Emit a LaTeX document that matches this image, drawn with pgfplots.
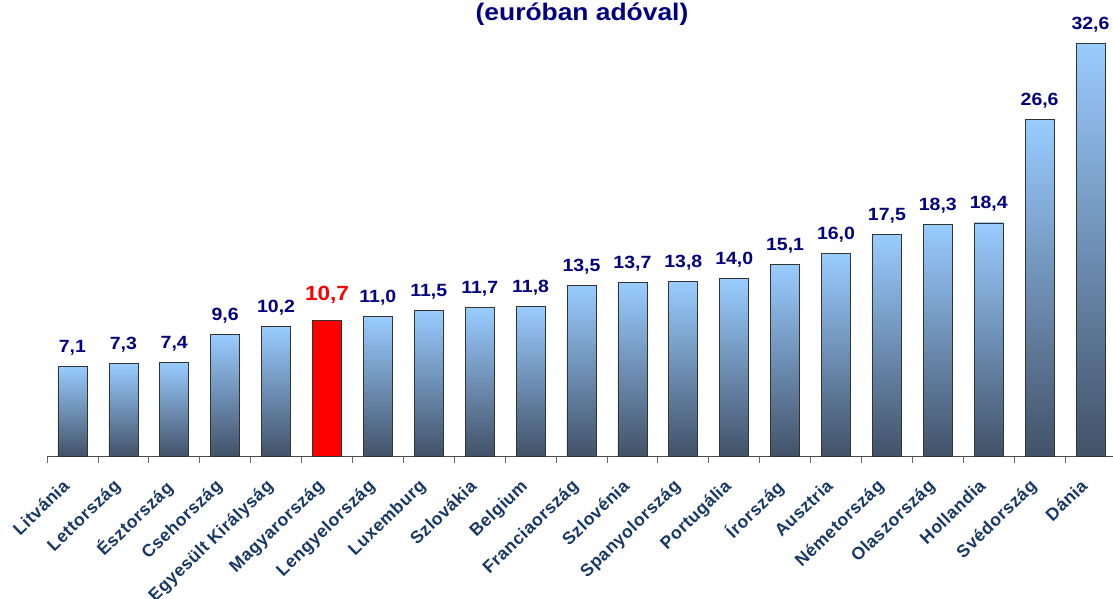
\documentclass[border=0pt]{standalone}
\usepackage{fontspec}
\setmainfont{Liberation Sans}[FakeStretch=1.1]
\newfontfamily\lab{Liberation Sans}[LetterSpace=3]
\usepackage{pgfplots}
\pgfplotsset{compat=1.18}
\definecolor{barlabel}{RGB}{0,0,128}
\definecolor{ticklab}{RGB}{23,55,100}
\definecolor{bartop}{RGB}{153,204,255}
\definecolor{barbot}{RGB}{66,82,104}
\begin{document}
\begin{tikzpicture}
\begin{axis}[
  at={(0pt,0pt)}, anchor=south west,
  scale only axis, width=1069pt, height=456pt,
  xmin=-0.5, xmax=20.5, ymin=0, ymax=36,
  axis x line*=bottom, axis y line=none,
  x axis line style={draw=black!70, line width=0.8pt},
  ybar, bar width=29pt, bar shift=0pt,
  xtick={0,...,20},
  xticklabels={Litvánia,Lettország,Észtország,Csehország,Egyesült Királyság,Magyarország,Lengyelország,Luxemburg,Szlovákia,Belgium,Franciaország,Szlovénia,Spanyolország,Portugália,Írország,Ausztria,Németország,Olaszország,Hollandia,Svédország,Dánia},
  minor xtick={-0.5,0.5,...,20.5},
  major tick length=0pt, minor tick length=7pt, tick align=outside,
  minor tick style={draw=black!60, line width=0.8pt},
  x tick label style={font=\lab\fontsize{17.5}{19}\selectfont\bfseries, text=ticklab, inner sep=0pt, xshift=-11pt, yshift=-22pt, rotate=44, anchor=north east},
  title={(euróban adóval)},
  title style={at={(axis description cs:0.5005,0.941)}, anchor=base, font=\fontsize{24}{28}\selectfont\bfseries, text=barlabel},
  /pgf/number format/.cd, use comma, fixed, fixed zerofill, precision=1, assume math mode=true,
  /pgfplots/.cd,
  bb/.style={draw=black!80, line width=0.7pt, top color=bartop, bottom color=barbot,
    nodes near coords,
    nodes near coords style={font=\fontsize{17.7}{20}\selectfont\bfseries, text=barlabel, anchor=base, yshift=14pt, inner sep=0pt}},
]
\addplot[bb] coordinates {(0,7.1)};
\addplot[bb] coordinates {(1,7.3)};
\addplot[bb] coordinates {(2,7.4)};
\addplot[bb] coordinates {(3,9.6)};
\addplot[bb] coordinates {(4,10.2)};
\addplot[draw=black!80, line width=0.7pt, fill=red,
  nodes near coords,
  nodes near coords style={font=\fontsize{20.5}{24}\selectfont\bfseries, text=red, anchor=base, yshift=20pt, inner sep=0pt}]
  coordinates {(5,10.7)};
\addplot[bb] coordinates {(6,11.0)};
\addplot[bb] coordinates {(7,11.5)};
\addplot[bb] coordinates {(8,11.7)};
\addplot[bb] coordinates {(9,11.8)};
\addplot[bb] coordinates {(10,13.5)};
\addplot[bb] coordinates {(11,13.7)};
\addplot[bb] coordinates {(12,13.8)};
\addplot[bb] coordinates {(13,14.0)};
\addplot[bb] coordinates {(14,15.1)};
\addplot[bb] coordinates {(15,16.0)};
\addplot[bb] coordinates {(16,17.5)};
\addplot[bb] coordinates {(17,18.3)};
\addplot[bb] coordinates {(18,18.4)};
\addplot[bb] coordinates {(19,26.6)};
\addplot[bb] coordinates {(20,32.6)};
\end{axis}
\pgfresetboundingbox
\useasboundingbox (-47pt,-142pt) rectangle (1066pt,456pt);
\end{tikzpicture}
\end{document}
